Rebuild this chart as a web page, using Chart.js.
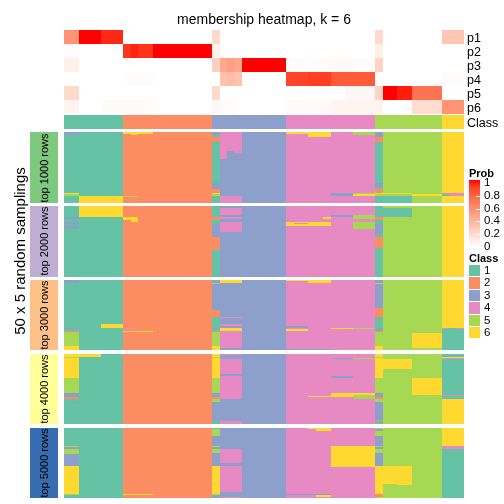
<!DOCTYPE html>
<html>
<head>
<meta charset="utf-8">
<script src="https://cdn.jsdelivr.net/npm/chart.js@4.4.1/dist/chart.umd.min.js"></script>
<style>
  html, body { margin: 0; padding: 0; background: #fff; }
  #wrap { position: relative; width: 504px; height: 504px; overflow: hidden;
          font-family: 'Liberation Sans', Arial, sans-serif; color: #000; }
  #wrap canvas { position: absolute; left: 0; top: 0; }
  .txt { position: absolute; white-space: nowrap; line-height: 1; }
  .box { position: absolute; }
</style>
</head>
<body>
<div id="wrap"><canvas id="heat" width="504" height="504"></canvas></div>
<script>
/* ---- data ---- */
const title = 'membership heatmap, k = 6';
const classes = ['1', '2', '3', '4', '5', '6'];
const probTicks = ['1', '0.8', '0.6', '0.4', '0.2', '0'];
const probRowNames = ['p1', 'p2', 'p3', 'p4', 'p5', 'p6'];
const panelNames = ['top 1000 rows', 'top 2000 rows', 'top 3000 rows', 'top 4000 rows', 'top 5000 rows'];
const nSamplings = 50;

// consensus class of each sample (column)
const sampleClass = [1,1,1,1,1,1,1,1,
  2,2,2,2,2,2,2,2,2,2,2,2,
  3,3,3,3,3,3,3,3,3,3,
  4,4,4,4,4,4,4,4,4,4,4,4,
  5,5,5,5,5,5,5,5,5,
  6,6,6];

// membership probabilities
const p1 = [0.55,0.55,1,1,1,0.95,0.95,0.95,
  0,0,0,0,0,0,0,0,0,0,0,0,
  0.2,0,0,0,0,0,0,0,0,0,
  0,0,0,0,0,0,0,0,0,0,0,0,
  0.2,0,0,0,0,0,0,0,0,
  0.3,0.3,0.3];
const p2 = [0.02,0.02,0,0,0,0,0,0,
  0.92,0.96,0.92,0.92,1,1,1,1,1,1,1,1,
  0.08,0,0,0,0,0,0,0,0,0,
  0,0,0,0,0,0,0,0,0,0,0,0,
  0.08,0,0,0,0,0,0,0,0,
  0,0,0];
const p3 = [0.08,0.08,0,0,0,0,0,0,
  0,0,0,0,0,0,0,0,0,0,0,0,
  0.25,0.45,0.5,0.45,1,1,1,1,1,1,
  0.01,0.01,0.01,0.02,0.02,0.02,0.03,0.03,0.03,0.01,0.01,0.01,
  0.23,0,0,0,0,0,0,0,0,
  0,0,0];
const p4 = [0,0,0,0,0,0,0,0,
  0.01,0.01,0.01,0.01,0,0,0,0,0,0,0,0,
  0,0.32,0.35,0.32,0,0,0,0,0,0,
  0.88,0.88,0.88,0.9,0.9,0.9,0.8,0.8,0.8,0.8,0.8,0.8,
  0,0,0,0,0,0,0,0,0,
  0.02,0.02,0.02];
const p5 = [0.2,0.2,0,0,0,0,0,0,
  0,0,0,0,0,0,0,0,0,0,0,0,
  0.2,0,0,0,0,0,0,0,0,0,
  0,0,0,0,0,0,0,0,0.04,0.04,0.04,0.04,
  0.23,1,1,0.97,0.97,0.7,0.7,0.7,0.7,
  0,0,0];
const p6 = [0.06,0.06,0,0,0,0.02,0.02,0.02,
  0.02,0.02,0.02,0.02,0,0,0,0,0,0,0,0,
  0.04,0.02,0.02,0,0,0,0,0,0,0,
  0.02,0.02,0.02,0.03,0.03,0.03,0.06,0.06,0.06,0.06,0.06,0.06,
  0.06,0,0,0,0.02,0.18,0.18,0.18,0.18,
  0.55,0.55,0.55];

// class found in each random sampling, stored as changes against sampleClass:
// [first sample, last sample, first sampling, last sampling, class]
const top1000 = [
  [0,1,0,1,3],[0,1,43,43,6],[0,1,44,44,5],
  [2,7,45,49,6],
  [8,8,0,0,6],[9,9,0,1,6],[10,11,0,0,6],[8,9,45,45,5],
  [20,20,0,49,1],[20,20,0,1,3],[20,20,3,6,2],[20,20,36,39,3],[20,20,40,42,2],[20,20,43,43,6],[20,20,44,44,5],
  [21,21,0,18,4],[22,22,0,12,4],[23,23,0,14,4],[21,23,45,49,4],
  [30,32,0,0,6],[33,35,0,2,6],
  [36,38,43,44,3],
  [39,41,0,1,5],[39,41,43,43,5],[39,41,44,44,6],
  [42,42,0,49,1],[42,42,0,2,3],[42,42,3,6,2],[42,42,36,38,3],[42,42,40,42,2],[42,42,43,43,6],[42,42,44,44,5],
  [43,46,43,43,6],[43,46,45,49,1],
  [47,50,44,44,6],
  [51,53,43,44,4],[51,51,44,44,1]
];
const top2000 = [
  [0,1,8,8,3],[0,1,11,12,3],[0,1,14,15,3],
  [2,7,0,7,6],
  [8,8,8,9,6],[9,9,8,10,6],
  [20,20,0,49,1],[20,20,8,9,2],[20,20,13,21,3],[20,20,22,30,2],
  [21,23,1,5,4],[21,23,8,8,4],[21,23,11,17,4],
  [30,35,11,13,6],[31,32,12,12,4],[35,35,8,8,6],
  [36,38,6,7,3],
  [39,41,6,8,5],[39,41,11,15,5],
  [42,42,0,49,1],[42,42,8,9,2],[42,42,13,19,3],[42,42,22,29,2],
  [43,46,1,7,1]
];
const top3000 = [
  [0,1,0,1,3],[0,1,34,34,3],[0,1,36,36,2],[0,1,37,46,5],[0,1,47,49,6],
  [5,7,31,33,6],
  [8,9,34,34,4],[8,11,36,36,6],
  [20,20,2,2,5],[20,20,21,25,2],[20,20,26,33,1],[20,20,35,35,1],[20,20,36,36,2],[20,20,37,46,5],[20,20,47,49,6],
  [21,23,0,1,6],[21,23,26,26,4],[21,23,31,32,4],[21,23,34,35,6],[21,23,36,47,4],
  [30,32,0,0,6],[30,32,33,33,3],[30,32,35,35,6],[33,35,0,1,6],[30,35,49,49,3],
  [36,38,34,34,6],[39,41,34,34,5],
  [42,42,0,1,3],[42,42,2,2,5],[42,42,3,19,3],[42,42,20,25,2],[42,42,26,33,1],[42,42,34,35,3],[42,42,36,36,2],[42,42,37,46,5],[42,42,47,49,6],
  [47,50,38,47,6],
  [51,53,34,34,4],[52,52,34,34,1],[51,53,35,49,1]
];
const top4000 = [
  [0,4,0,1,6],
  [0,1,2,2,5],[0,1,3,16,6],[0,1,17,27,5],[0,1,28,30,3],[0,1,31,31,2],[1,1,34,34,3],
  [20,20,0,1,6],[20,20,2,2,5],[20,20,3,16,6],[20,20,17,27,5],[20,20,31,31,2],[20,20,32,33,5],[20,20,48,49,1],
  [21,23,0,0,4],[21,23,4,13,4],[21,23,16,31,4],[21,23,48,49,4],
  [33,35,30,30,6],
  [36,38,3,3,3],[36,38,16,16,3],[36,38,28,30,6],
  [39,41,3,3,5],[39,41,28,28,6],[39,41,29,31,5],
  [42,42,0,1,6],[42,42,2,2,5],[42,42,3,16,6],[42,42,17,27,5],[42,42,28,30,3],[42,42,31,31,2],[42,42,32,33,5],[42,42,34,46,3],[42,42,47,47,2],[42,42,48,49,1],
  [43,46,4,10,6],
  [47,50,17,28,6],
  [51,53,0,1,1],[51,53,3,3,4],[51,53,4,28,1],[51,53,29,29,4],[51,53,30,31,1],[51,53,32,49,6]
];
const top5000 = [
  [0,1,13,13,5],[0,1,14,14,3],[0,1,15,18,5],[0,1,19,26,3],[0,1,27,46,6],[0,1,47,47,5],
  [8,11,47,47,6],
  [20,20,0,0,1],[20,20,1,5,5],[20,20,13,13,5],[20,20,15,17,5],[20,20,27,46,6],[20,20,47,47,5],
  [21,23,15,24,4],[21,23,27,45,4],[21,23,49,49,4],
  [30,35,47,47,3],[33,33,0,0,6],[34,35,0,1,6],[34,35,48,48,6],
  [36,41,13,27,6],
  [42,42,1,1,3],[42,42,6,12,3],[42,42,14,14,3],[42,42,18,26,3],[42,42,27,46,6],[42,42,47,47,2],[42,42,48,48,2],
  [43,44,27,39,6],[45,46,27,40,6],
  [51,53,0,12,6],[51,53,13,14,4],[51,53,15,49,1]
];

/* ---- layout / styles ---- */
const classColors = ['#66C2A5', '#FC8D62', '#8DA0CB', '#E78AC3', '#A6D854', '#FFD92F'];
const panelColors = ['#7FC97F', '#BEAED4', '#FDC086', '#FFFF99', '#386CB0'];
const probRows = [p1, p2, p3, p4, p5, p6];
const panels = [top1000, top2000, top3000, top4000, top5000];
const nSamples = sampleClass.length;

// vertical layout in "sampling row" units
const PROB_H = 10, CLASS_GAP = 0.7, CLASS_H = 9.6, PANEL_GAP = 2.5;
const classTop = probRows.length * PROB_H + CLASS_GAP;
const panelTop = k => classTop + CLASS_H + PANEL_GAP + k * (nSamplings + PANEL_GAP);
const yMax = panelTop(panels.length) - PANEL_GAP;

// white -> red, interpolated in Lab like the original colour mapping
function probColor(p) {
  const L = 100 + (53.2408 - 100) * p, A = 80.0925 * p, B = 67.2032 * p;
  const fy = (L + 16) / 116, fx = fy + A / 500, fz = fy - B / 200;
  const inv = t => t > 0.206893 ? t * t * t : (t - 16 / 116) / 7.787;
  const X = 0.95047 * inv(fx), Y = inv(fy), Z = 1.08883 * inv(fz);
  const lin = [
    3.2404542 * X - 1.5371385 * Y - 0.4985314 * Z,
    -0.9692660 * X + 1.8760108 * Y + 0.0415560 * Z,
    0.0556434 * X - 0.2040259 * Y + 1.0572252 * Z
  ];
  const rgb = lin.map(c => {
    c = Math.min(1, Math.max(0, c));
    c = c <= 0.0031308 ? 12.92 * c : 1.055 * Math.pow(c, 1 / 2.4) - 0.055;
    return Math.round(255 * c);
  });
  return `rgb(${rgb.join(',')})`;
}

function buildMatrix(changes) {
  const m = [];
  for (let r = 0; r < nSamplings; r++) m.push(sampleClass.slice());
  changes.forEach(([c0, c1, r0, r1, cls]) => {
    for (let r = r0; r <= r1; r++) for (let c = c0; c <= c1; c++) m[r][c] = cls;
  });
  return m;
}

const heatPlugin = {
  id: 'heat',
  beforeDatasetsDraw(chart) {
    const xs = chart.scales.x, ys = chart.scales.y, c = chart.ctx;
    const px = v => Math.round(xs.getPixelForValue(v));
    const py = v => Math.round(ys.getPixelForValue(v));
    c.save();
    // membership rows
    probRows.forEach((row, r) => {
      const y0 = py(r * PROB_H), y1 = py((r + 1) * PROB_H);
      row.forEach((p, i) => {
        c.fillStyle = probColor(p);
        c.fillRect(px(i), y0, px(i + 1) - px(i), y1 - y0);
      });
    });
    // class bar
    sampleClass.forEach((cls, i) => {
      c.fillStyle = classColors[cls - 1];
      c.fillRect(px(i), py(classTop), px(i + 1) - px(i), py(classTop + CLASS_H) - py(classTop));
    });
    // sampling panels
    panels.forEach((changes, k) => {
      const m = buildMatrix(changes), top = panelTop(k);
      for (let i = 0; i < nSamples; i++) {
        let r = 0;
        while (r < nSamplings) {
          let e = r;
          while (e + 1 < nSamplings && m[e + 1][i] === m[r][i]) e++;
          c.fillStyle = classColors[m[r][i] - 1];
          const y0 = py(top + r), y1 = py(top + e + 1);
          c.fillRect(px(i), y0, px(i + 1) - px(i), y1 - y0);
          r = e + 1;
        }
      }
    });
    c.restore();
  }
};

new Chart(document.getElementById('heat'), {
  type: 'scatter',
  data: { datasets: [] },
  options: {
    responsive: false,
    animation: false,
    layout: { padding: { left: 64, right: 40, top: 30, bottom: 6 } },
    scales: {
      x: { type: 'linear', min: 0, max: nSamples, display: false },
      y: { type: 'linear', min: 0, max: yMax, reverse: true, display: false }
    },
    plugins: { legend: { display: false }, tooltip: { enabled: false } }
  },
  plugins: [heatPlugin]
});

/* ---- text and legends ---- */
const wrap = document.getElementById('wrap');
const unit = (498 - 30) / yMax;
const yPix = v => 30 + v * unit;

function addText(text, x, y, size, align, rotate) {
  const d = document.createElement('div');
  d.className = 'txt';
  d.textContent = text;
  d.style.left = x + 'px';
  d.style.top = y + 'px';
  d.style.fontSize = size + 'px';
  const tx = align === 'left' ? '0' : '-50%';
  d.style.transform = `translate(${tx},-50%)` + (rotate ? ' rotate(-90deg)' : '');
  wrap.appendChild(d);
  return d;
}
function addBox(x, y, w, h, bg) {
  const d = document.createElement('div');
  d.className = 'box';
  d.style.cssText += `left:${x}px;top:${y}px;width:${w}px;height:${h}px;background:${bg};`;
  wrap.appendChild(d);
  return d;
}

addText(title, 264, 19, 14, 'center');
probRowNames.forEach((n, r) => addText(n, 467, yPix((r + 0.5) * PROB_H) + 0.5, 12.5, 'left'));
addText('Class', 467, yPix(classTop + CLASS_H / 2) + 0.5, 12.5, 'left');

// panel labels
panelNames.forEach((n, k) => {
  const y0 = yPix(panelTop(k)), y1 = yPix(panelTop(k) + nSamplings);
  addBox(30, y0, 28, y1 - y0, panelColors[k]);
  addText(n, 44, (y0 + y1) / 2, 11, 'center', true);
});
addText('50 x 5 random samplings', 19, 251, 15, 'center', true);

// probability colour bar
const stops = [];
for (let i = 0; i <= 10; i++) stops.push(`${probColor(i / 10)} ${i * 10}%`);
addText('Prob', 469, 173, 11, 'left').style.fontWeight = 'bold';
addBox(469, 180, 11, 67, `linear-gradient(to top, ${stops.join(', ')})`);
probTicks.forEach((t, i) => {
  const y = 183 + i * 12.8;
  addText(t, 484, y, 11.5, 'left');
  if (i > 0 && i < probTicks.length - 1) addBox(476, Math.round(y), 4, 1, '#fff');
});

// class legend
addText('Class', 469, 258, 11, 'left').style.fontWeight = 'bold';
classes.forEach((cl, i) => {
  const y = 265 + i * 12.4;
  addBox(469, y, 11, 11.4, classColors[i]);
  addText(cl, 484, y + 6, 11.5, 'left');
});
</script>
</body>
</html>
